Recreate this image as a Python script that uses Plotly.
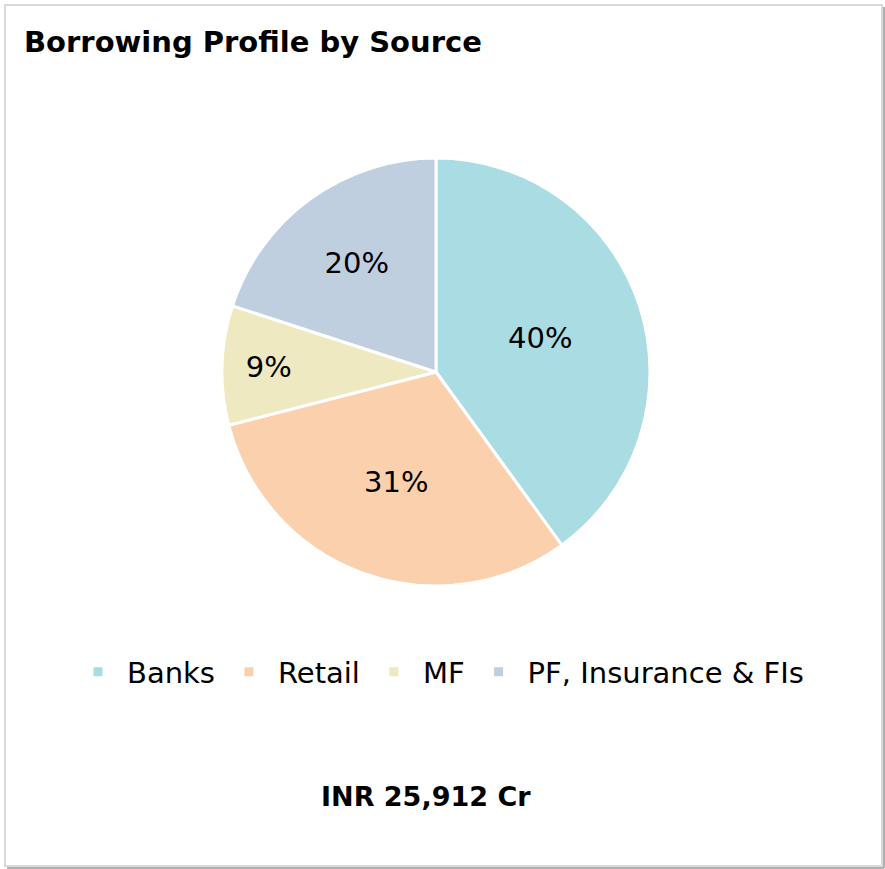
import plotly.graph_objects as go

categories = ["Banks", "Retail", "MF", "PF, Insurance & FIs"]
shares = [40, 31, 9, 20]
colors = ["#AADCE3", "#FBD0AD", "#EFE9C1", "#C0CFE0"]
title_text = "Borrowing Profile by Source"
total_text = "INR 25,912 Cr"

W, H = 885, 869
cx, cy, r = 436, 372, 214
FONT = "DejaVu Sans"


def px(x):
    return x / W


def py(y):
    return 1 - y / H


fig = go.Figure(go.Pie(
    labels=categories,
    values=shares,
    sort=False,
    direction="clockwise",
    rotation=0,
    marker=dict(colors=colors, line=dict(color="white", width=3)),
    textinfo="percent",
    texttemplate="%{percent:.0%}",
    textposition="inside",
    insidetextorientation="horizontal",
    textfont=dict(family=FONT, size=29, color="black"),
    domain=dict(x=[px(cx - r), px(cx + r)], y=[py(cy + r), py(cy - r)]),
    hoverinfo="label+percent",
))

fig.update_layout(
    width=W, height=H,
    margin=dict(l=0, r=0, t=0, b=0),
    paper_bgcolor="white",
    plot_bgcolor="white",
    font=dict(family=FONT, color="black"),
    title=dict(text="<b>" + title_text + "</b>", x=px(24), xanchor="left", y=py(42), yanchor="middle",
               font=dict(family=FONT, size=29, color="black")),
    showlegend=True,
    legend=dict(orientation="h", x=px(439), xanchor="center", y=py(672), yanchor="middle",
                font=dict(family=FONT, size=29, color="black"), itemwidth=48,
                traceorder="normal"),
    annotations=[dict(text="<b>" + total_text + "</b>", x=px(426), y=py(796), xref="paper", yref="paper",
                      showarrow=False, xanchor="center", yanchor="middle",
                      font=dict(family=FONT, size=27, color="black"))],
    shapes=[
        dict(type="rect", xref="paper", yref="paper", x0=px(5), x1=px(882), y0=py(866), y1=py(5),
             line=dict(color="#D9D9D9", width=2), fillcolor="rgba(0,0,0,0)", layer="below"),
        dict(type="line", xref="paper", yref="paper", x0=px(884), x1=px(884), y0=py(868), y1=py(7),
             line=dict(color="#B0B0B0", width=2), layer="below"),
        dict(type="line", xref="paper", yref="paper", x0=px(7), x1=px(884), y0=py(868), y1=py(868),
             line=dict(color="#B0B0B0", width=2), layer="below"),
    ],
)

fig.write_html("out.html", config={"displayModeBar": False},
               post_script="document.body.style.margin='0';document.body.style.overflow='hidden';")
